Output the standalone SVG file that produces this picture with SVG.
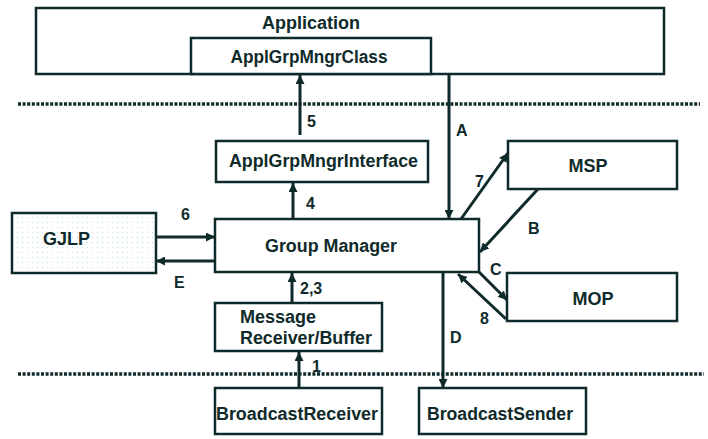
<svg xmlns="http://www.w3.org/2000/svg" width="708" height="439" viewBox="0 0 708 439">
  <style>
    .box { fill: #ffffff; stroke: #0f2a2a; stroke-width: 2.5; }
    .lbl { font-family: "Liberation Sans", Arial, sans-serif; font-weight: bold; font-size: 18px; fill: #0f2a2a; }
    .num { font-family: "Liberation Sans", Arial, sans-serif; font-weight: bold; font-size: 16px; fill: #0f2a2a; }
    .wire { stroke: #0f2a2a; stroke-width: 3; fill: none; }
    .sep { stroke: #0f2a2a; stroke-width: 3.5; stroke-dasharray: 3 1.6; fill: none; }
  </style>
  <defs>
    <marker id="head" viewBox="0 0 10 10" refX="10" refY="5" markerWidth="9" markerHeight="9" markerUnits="userSpaceOnUse" orient="auto">
      <path d="M0,0 L10,5 L0,10 z" fill="#0f2a2a"/>
    </marker>
    <pattern id="dots" width="5" height="5" patternUnits="userSpaceOnUse">
      <rect width="5" height="5" fill="#ffffff"/>
      <rect x="2" y="2" width="1" height="1" fill="#b9dfe6"/>
    </pattern>
  </defs>

  <!-- layer separators -->
  <line class="sep" x1="18" y1="104" x2="700" y2="104"/>
  <line class="sep" x1="18" y1="374" x2="704" y2="374"/>

  <g id="application">
    <rect class="box" x="36" y="8" width="628" height="66"/>
    <text class="lbl" x="311" y="29" text-anchor="middle">Application</text>
  </g>
  <g id="applgrpmngrclass">
    <rect class="box" x="191" y="38" width="240" height="36"/>
    <text class="lbl" x="309" y="63" text-anchor="middle" textLength="157" lengthAdjust="spacingAndGlyphs">ApplGrpMngrClass</text>
  </g>
  <g id="applgrpmngrinterface">
    <rect class="box" x="216" y="141" width="212" height="41"/>
    <text class="lbl" x="229" y="167" textLength="189" lengthAdjust="spacingAndGlyphs">ApplGrpMngrInterface</text>
  </g>
  <g id="msp">
    <rect class="box" x="508" y="141" width="169" height="48"/>
    <text class="lbl" x="588" y="172" text-anchor="middle">MSP</text>
  </g>
  <g id="gjlp">
    <rect x="12" y="213" width="144" height="60" fill="url(#dots)" stroke="#0f2a2a" stroke-width="2.5"/>
    <text class="lbl" x="43" y="245">GJLP</text>
  </g>
  <g id="group-manager">
    <rect class="box" x="215" y="219" width="264" height="53"/>
    <text class="lbl" x="265" y="252" textLength="132" lengthAdjust="spacingAndGlyphs">Group Manager</text>
  </g>
  <g id="mop">
    <rect class="box" x="507" y="273" width="170" height="48"/>
    <text class="lbl" x="593" y="305" text-anchor="middle">MOP</text>
  </g>
  <g id="message-receiver-buffer">
    <rect class="box" x="215" y="303" width="167" height="48"/>
    <text class="lbl" x="240" y="323">Message</text>
    <text class="lbl" x="240" y="344" textLength="132" lengthAdjust="spacingAndGlyphs">Receiver/Buffer</text>
  </g>
  <g id="broadcast-receiver">
    <rect class="box" x="215" y="388" width="167" height="46"/>
    <text class="lbl" x="216" y="420" textLength="162" lengthAdjust="spacingAndGlyphs">BroadcastReceiver</text>
  </g>
  <g id="broadcast-sender">
    <rect class="box" x="419" y="388" width="167" height="46"/>
    <text class="lbl" x="427" y="420" textLength="146" lengthAdjust="spacingAndGlyphs">BroadcastSender</text>
  </g>

  <g id="connectors">
    <line class="wire" x1="300" y1="135" x2="300" y2="75" marker-end="url(#head)"/>
    <line class="wire" x1="449" y1="74" x2="449" y2="219" marker-end="url(#head)"/>
    <line class="wire" x1="293" y1="219" x2="293" y2="183" marker-end="url(#head)"/>
    <line class="wire" x1="156" y1="237" x2="215" y2="237" marker-end="url(#head)"/>
    <line class="wire" x1="215" y1="261" x2="156" y2="261" marker-end="url(#head)"/>
    <line class="wire" x1="461" y1="219" x2="508" y2="153" marker-end="url(#head)"/>
    <line class="wire" x1="538" y1="189" x2="480" y2="252" marker-end="url(#head)"/>
    <line class="wire" x1="479" y1="272" x2="507" y2="300" marker-end="url(#head)"/>
    <line class="wire" x1="506" y1="319" x2="458" y2="274" marker-end="url(#head)"/>
    <line class="wire" x1="292" y1="303" x2="292" y2="273" marker-end="url(#head)"/>
    <line class="wire" x1="299" y1="388" x2="299" y2="352" marker-end="url(#head)"/>
    <line class="wire" x1="443" y1="272" x2="443" y2="388" marker-end="url(#head)"/>

    <text class="num" x="307" y="127">5</text>
    <text class="num" x="456" y="136">A</text>
    <text class="num" x="306" y="209">4</text>
    <text class="num" x="181" y="220">6</text>
    <text class="num" x="174" y="288">E</text>
    <text class="num" x="475" y="187">7</text>
    <text class="num" x="528" y="234">B</text>
    <text class="num" x="490" y="275">C</text>
    <text class="num" x="480" y="324">8</text>
    <text class="num" x="300" y="294">2,3</text>
    <text class="num" x="450" y="343">D</text>
    <text class="num" x="312" y="372">1</text>
  </g>
</svg>
